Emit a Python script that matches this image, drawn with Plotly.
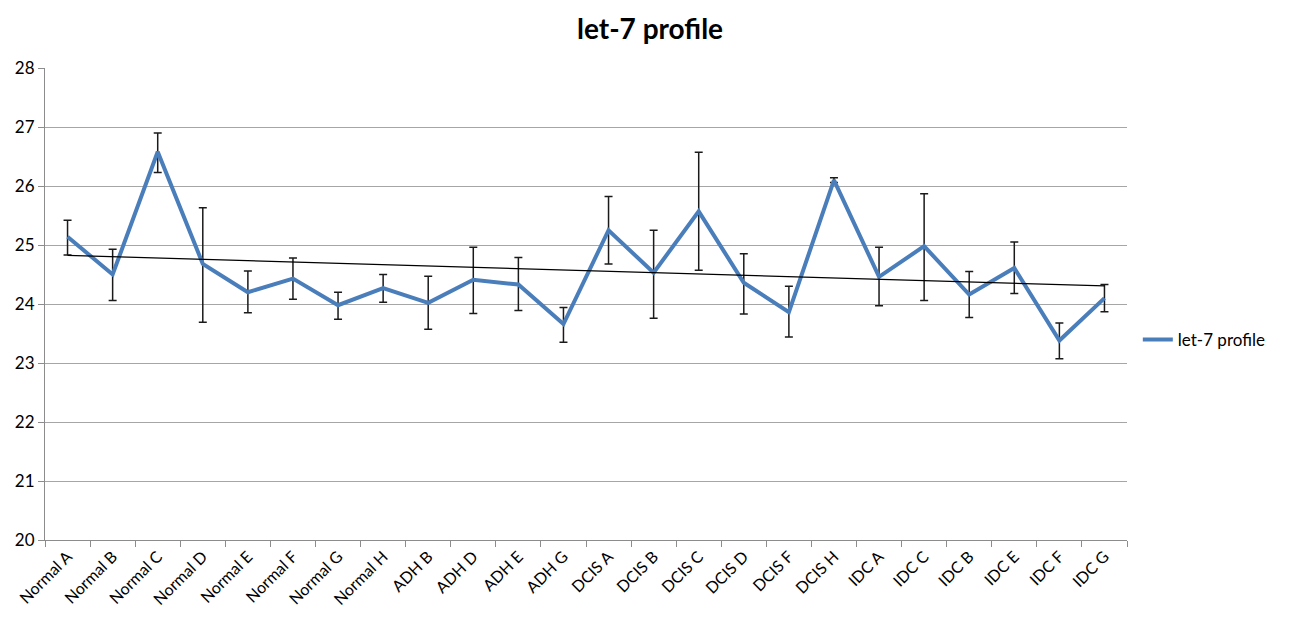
import numpy as np
import plotly.graph_objects as go

categories = ["Normal A", "Normal B", "Normal C", "Normal D", "Normal E", "Normal F",
              "Normal G", "Normal H", "ADH B", "ADH D", "ADH E", "ADH G",
              "DCIS A", "DCIS B", "DCIS C", "DCIS D", "DCIS F", "DCIS H",
              "IDC A", "IDC C", "IDC B", "IDC E", "IDC F", "IDC G"]
values = [25.14, 24.50, 26.58, 24.68, 24.20, 24.43, 23.98, 24.27, 24.02, 24.41, 24.33, 23.66,
          25.25, 24.53, 25.57, 24.36, 23.86, 26.10, 24.46, 24.98, 24.16, 24.61, 23.38, 24.10]
err_plus = [0.28, 0.43, 0.32, 0.95, 0.36, 0.35, 0.22, 0.23, 0.45, 0.55, 0.46, 0.28,
            0.57, 0.72, 1.00, 0.49, 0.44, 0.04, 0.50, 0.89, 0.39, 0.44, 0.30, 0.23]
err_minus = [0.31, 0.44, 0.35, 0.99, 0.35, 0.35, 0.24, 0.24, 0.45, 0.57, 0.44, 0.31,
             0.57, 0.77, 1.00, 0.53, 0.42, 0.04, 0.49, 0.92, 0.39, 0.43, 0.31, 0.23]

FONT = "Lato"

# Linear trendline (least squares, as in the spreadsheet trendline)
idx = np.arange(len(values))
slope, intercept = np.polyfit(idx, values, 1)
trend = slope * idx + intercept

fig = go.Figure()
fig.add_trace(go.Scatter(
    x=categories, y=values, mode="lines", name="let-7 profile",
    line=dict(color="#4a7ebb", width=4),
    error_y=dict(type="data", symmetric=False, array=err_plus, arrayminus=err_minus,
                 color="#1a1a1a", thickness=1.5, width=4),
))
fig.add_trace(go.Scatter(
    x=categories, y=trend, mode="lines", showlegend=False, hoverinfo="skip",
    line=dict(color="black", width=1.2),
))

fig.update_layout(
    width=1297, height=619,
    margin=dict(l=37, r=178, t=60, b=87, autoexpand=False),
    paper_bgcolor="white", plot_bgcolor="white",
    title=dict(text="<b>let-7 profile</b>", x=0.495, xanchor="center", y=0.966, yanchor="middle",
               font=dict(family=FONT, size=28, color="black")),
    font=dict(family=FONT, size=16, color="black"),
    legend=dict(x=1.01, y=0.424, xanchor="left", yanchor="middle",
                font=dict(family=FONT, size=17, color="black"),
                bgcolor="rgba(0,0,0,0)"),
    xaxis=dict(type="category", range=[-0.5, 23.5], showgrid=False, automargin=False,
               showline=True, linecolor="#8c8c8c", linewidth=1,
               ticks="outside", tickson="boundaries", ticklen=6, tickcolor="#8c8c8c",
               tickangle=-45, tickfont=dict(family=FONT, size=16, color="black")),
    yaxis=dict(range=[20, 28], dtick=1, showgrid=True, gridcolor="#a6a6a6", gridwidth=1,
               showline=True, linecolor="#8c8c8c", linewidth=1, automargin=False,
               ticks="outside", ticklen=6, tickcolor="#8c8c8c", zeroline=False,
               tickfont=dict(family=FONT, size=17, color="black")),
)

fig.write_html("out.html")
